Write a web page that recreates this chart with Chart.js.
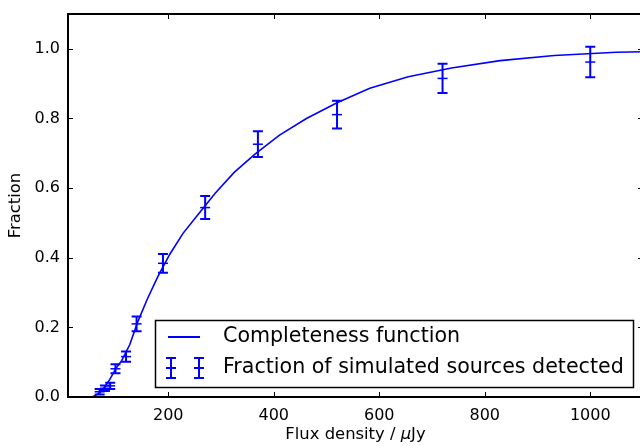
<!DOCTYPE html>
<html>
<head>
<meta charset="utf-8">
<script src="https://cdn.jsdelivr.net/npm/chart.js@4"></script>
<style>
  html, body { margin: 0; padding: 0; background: #fff; overflow: hidden; }
  #wrap { width: 640px; height: 446px; overflow: hidden; }
</style>
</head>
<body>
<div id="wrap"><canvas id="c" width="644" height="446"></canvas></div>
<script>
// simulated sources: flux bins, detected fraction, error
const fluxBins = [70, 80, 90, 100, 120, 140, 190, 270, 370, 520, 720, 1000];
const detFrac = [0.015, 0.025, 0.032, 0.081, 0.116, 0.21, 0.384, 0.544, 0.726, 0.811, 0.915, 0.962];
const detErr = [0.008, 0.008, 0.009, 0.013, 0.015, 0.021, 0.027, 0.033, 0.037, 0.04, 0.042, 0.044];

// completeness function
const curveFlux = [49, 55, 62, 70, 79, 89, 100, 112, 127, 142, 160, 180, 203, 228, 257, 289, 325, 365, 411, 462, 520, 582, 655, 737, 829, 932, 1049, 1180];
const curveFrac = [0, 0, 0.004, 0.013, 0.028, 0.05, 0.08, 0.105, 0.15, 0.215, 0.28, 0.345, 0.41, 0.47, 0.525, 0.585, 0.645, 0.698, 0.752, 0.8, 0.845, 0.887, 0.92, 0.945, 0.966, 0.981, 0.99, 0.994];

const xTicks = [200, 400, 600, 800, 1000];
const yTicks = [0, 0.2, 0.4, 0.6, 0.8, 1.0];

const BLUE = "#0000ff";
const FONT = "'DejaVu Sans', sans-serif";

const mplFrame = {
  id: "mplFrame",
  afterDatasetsDraw(chart) {
    const { ctx } = chart;
    const xs = chart.scales.x, ys = chart.scales.y;
    ctx.save();
    ctx.strokeStyle = BLUE;
    ctx.lineWidth = 2;
    fluxBins.forEach((f, i) => {
      const px = xs.getPixelForValue(f);
      const top = ys.getPixelForValue(detFrac[i] + detErr[i]);
      const bot = ys.getPixelForValue(detFrac[i] - detErr[i]);
      ctx.beginPath();
      ctx.moveTo(px, top); ctx.lineTo(px, bot);
      ctx.moveTo(px - 5, top); ctx.lineTo(px + 5, top);
      ctx.moveTo(px - 5, bot); ctx.lineTo(px + 5, bot);
      ctx.stroke();
    });
    ctx.restore();
  },
  afterDraw(chart) {
    const { ctx, chartArea: a } = chart;
    const xs = chart.scales.x, ys = chart.scales.y;
    ctx.save();
    // inward ticks
    ctx.strokeStyle = "#000";
    ctx.lineWidth = 1;
    ctx.beginPath();
    xTicks.forEach((v) => {
      const px = Math.round(xs.getPixelForValue(v)) + 0.5;
      ctx.moveTo(px, a.bottom); ctx.lineTo(px, a.bottom - 5);
      ctx.moveTo(px, a.top); ctx.lineTo(px, a.top + 5);
    });
    yTicks.forEach((v) => {
      const py = Math.round(ys.getPixelForValue(v)) + 0.5;
      ctx.moveTo(a.left, py); ctx.lineTo(a.left + 5, py);
      ctx.moveTo(a.right, py); ctx.lineTo(a.right - 5, py);
    });
    ctx.stroke();
    // frame
    ctx.lineWidth = 2;
    ctx.strokeRect(a.left, a.top, a.right - a.left, a.bottom - a.top);

    // legend
    const lx = 155.5, ly = 320.5, lw = 478, lh = 67;
    ctx.fillStyle = "#fff";
    ctx.fillRect(lx, ly, lw, lh);
    ctx.lineWidth = 1.5;
    ctx.strokeRect(lx, ly, lw, lh);
    const r1 = ly + 16.5, r2 = ly + 47.5;
    ctx.strokeStyle = BLUE;
    ctx.lineWidth = 2;
    ctx.beginPath();
    ctx.moveTo(168, r1); ctx.lineTo(200, r1);
    [171, 199].forEach((px) => {
      ctx.moveTo(px, r2 - 10); ctx.lineTo(px, r2 + 10);
      ctx.moveTo(px - 5, r2 - 10); ctx.lineTo(px + 5, r2 - 10);
      ctx.moveTo(px - 5, r2 + 10); ctx.lineTo(px + 5, r2 + 10);
      ctx.moveTo(px - 5, r2); ctx.lineTo(px + 5, r2);
    });
    ctx.stroke();
    ctx.fillStyle = "#000";
    ctx.font = "20.6px " + FONT;
    ctx.textBaseline = "middle";
    ctx.textAlign = "left";
    ctx.fillText("Completeness function", 223, r1);
    ctx.fillText("Fraction of simulated sources detected", 223, r2);

    // axis titles
    const tf = "16.4px " + FONT;
    ctx.font = tf;
    ctx.textBaseline = "alphabetic";
    const p1 = "Flux density / ", p2 = "\u03bc", p3 = "Jy";
    const w1 = ctx.measureText(p1).width, w3 = ctx.measureText(p3).width;
    ctx.font = "italic " + tf;
    const w2 = ctx.measureText(p2).width;
    let tx = (a.left + a.right) / 2 - (w1 + w2 + w3) / 2;
    const ty = 439;
    ctx.font = tf;
    ctx.fillText(p1, tx, ty); tx += w1;
    ctx.font = "italic " + tf;
    ctx.fillText(p2, tx, ty); tx += w2;
    ctx.font = tf;
    ctx.fillText(p3, tx, ty);

    ctx.translate(16, (a.top + a.bottom) / 2);
    ctx.rotate(-Math.PI / 2);
    ctx.textAlign = "center";
    ctx.textBaseline = "middle";
    ctx.fillText("Fraction", 0, 0);
    ctx.restore();
  },
};

new Chart(document.getElementById("c"), {
  type: "scatter",
  data: {
    datasets: [
      {
        label: "Completeness function",
        data: curveFlux.map((f, i) => ({ x: f, y: curveFrac[i] })),
        showLine: true,
        borderColor: BLUE,
        borderWidth: 1.6,
        pointRadius: 0,
        tension: 0,
      },
      {
        label: "Fraction of simulated sources detected",
        data: fluxBins.map((f, i) => ({ x: f, y: detFrac[i] })),
        pointStyle: "line",
        pointRadius: 5,
        borderColor: BLUE,
        backgroundColor: BLUE,
        pointBorderWidth: 1.5,
      },
    ],
  },
  options: {
    responsive: false,
    animation: false,
    devicePixelRatio: 1,
    layout: { autoPadding: false, padding: { left: 0, top: 14, right: 1, bottom: 0 } },
    plugins: { legend: { display: false }, tooltip: { enabled: false } },
    scales: {
      x: {
        type: "linear",
        min: 10,
        max: 1100,
        grid: { display: false, drawTicks: false },
        border: { display: false },
        afterBuildTicks: (s) => { s.ticks = xTicks.map((v) => ({ value: v })); },
        afterFit: (s) => { s.height = 49; s.paddingLeft = 0; s.paddingRight = 0; },
        ticks: { color: "#000", font: { family: FONT, size: 16 }, padding: 9, maxRotation: 0, callback: (v) => String(v) },
      },
      y: {
        min: 0,
        max: 1.1,
        grid: { display: false, drawTicks: false },
        border: { display: false },
        afterBuildTicks: (s) => { s.ticks = yTicks.map((v) => ({ value: v })); },
        afterFit: (s) => { s.width = 68; s.paddingTop = 0; s.paddingBottom = 0; },
        ticks: { color: "#000", font: { family: FONT, size: 16 }, padding: 8, callback: (v) => v.toFixed(1) },
      },
    },
  },
  plugins: [mplFrame],
});
</script>
</body>
</html>
